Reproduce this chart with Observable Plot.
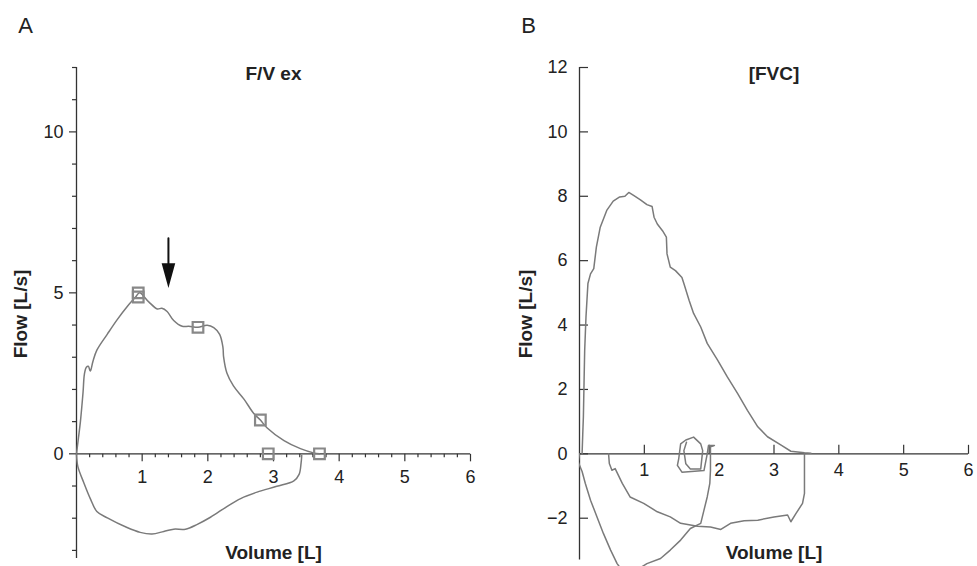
<!DOCTYPE html>
<html>
<head>
<meta charset="utf-8">
<script src="https://cdn.jsdelivr.net/npm/d3@7"></script>
<script src="https://cdn.jsdelivr.net/npm/@observablehq/plot@0.6"></script>
<style>
html, body { margin: 0; padding: 0; background: #fff; }
#wrap { display: flex; width: 977px; height: 566px; overflow: hidden; }
#wrap svg { display: block; }
</style>
</head>
<body>
<div id="wrap"></div>
<script>
// ---------- Panel A : F/V ex ----------
const aExpVolume = [0, 0.03, 0.06, 0.10, 0.12, 0.15, 0.18, 0.21, 0.25, 0.31, 0.47, 0.62, 0.77, 0.90, 0.96, 1.10, 1.23, 1.30, 1.38, 1.48, 1.61, 1.71, 1.85, 1.99, 2.09, 2.18, 2.23, 2.24, 2.29, 2.39, 2.55, 2.70, 2.80, 2.90, 3.16, 3.41, 3.61, 3.70];
const aExpFlow   = [0, 0.50, 1.01, 1.92, 2.47, 2.69, 2.72, 2.57, 2.87, 3.22, 3.72, 4.17, 4.57, 4.87, 5.00, 4.72, 4.50, 4.52, 4.42, 4.14, 3.96, 3.96, 3.93, 3.99, 3.92, 3.71, 3.31, 3.01, 2.51, 2.11, 1.70, 1.25, 1.05, 0.81, 0.41, 0.16, 0.03, 0];
const aInsVolume = [0, 0.02, 0.11, 0.21, 0.31, 0.47, 0.77, 0.97, 1.15, 1.33, 1.48, 1.66, 1.84, 2.04, 2.29, 2.50, 2.75, 3.05, 3.31, 3.39, 3.42, 3.43];
const aInsFlow   = [0, -0.39, -0.89, -1.39, -1.79, -1.99, -2.29, -2.44, -2.49, -2.41, -2.34, -2.34, -2.19, -1.97, -1.64, -1.39, -1.19, -1.01, -0.84, -0.64, -0.29, -0.05];
const aMarkerVolume = [0.94, 0.94, 1.85, 2.80, 2.92, 3.70];
const aMarkerFlow   = [5.00, 4.87, 3.93, 1.05, 0, 0];
const aArrowVolume = 1.40;
const aArrowFlowFrom = 6.70;

// ---------- Panel B : [FVC] ----------
const bExpVolume = [0.04, 0.05, 0.06, 0.07, 0.08, 0.10, 0.13, 0.17, 0.22, 0.26, 0.32, 0.42, 0.52, 0.62, 0.70, 0.76, 0.84, 0.94, 1.04, 1.12, 1.15, 1.20, 1.28, 1.34, 1.35, 1.40, 1.48, 1.58, 1.61, 1.69, 1.76, 1.87, 1.97, 2.13, 2.28, 2.44, 2.59, 2.75, 2.90, 3.11, 3.26, 3.47, 3.57];
const bExpFlow   = [0, 0.60, 1.15, 2.20, 3.22, 4.25, 5.29, 5.59, 5.75, 6.42, 7.04, 7.56, 7.85, 7.98, 8.00, 8.12, 8.02, 7.89, 7.74, 7.68, 7.35, 7.14, 6.93, 6.73, 6.21, 5.80, 5.69, 5.48, 5.29, 4.77, 4.36, 3.94, 3.43, 2.91, 2.39, 1.87, 1.35, 0.84, 0.53, 0.27, 0.08, 0.03, 0.02];
const bIns1Volume = [0, -0.02, 0.01, 0.04, 0.09, 0.17, 0.27, 0.37, 0.48, 0.58, 0.65, 0.85, 1.04, 1.25, 1.40, 1.56, 1.71, 1.87, 1.92, 1.97, 2.01, 2.02, 2.02, 2.07, 2.08, 1.99, 1.97, 1.92, 1.58, 1.51, 1.53, 1.56, 1.64, 1.76, 1.87, 1.90, 1.87, 1.71, 1.64, 1.61, 1.65];
const bIns1Flow   = [0, -0.25, -0.40, -0.55, -0.92, -1.44, -1.96, -2.48, -2.99, -3.41, -3.60, -3.65, -3.41, -3.25, -2.99, -2.68, -2.32, -2.16, -1.75, -1.34, -0.92, -0.51, 0.22, 0.25, 0.26, 0.26, 0.00, -0.52, -0.57, -0.36, -0.16, 0.31, 0.43, 0.52, 0.31, 0.10, -0.47, -0.47, -0.31, 0.10, 0.36];
const bIns2Volume = [0.45, 0.45, 0.46, 0.50, 0.55, 0.66, 0.78, 0.99, 1.20, 1.40, 1.56, 1.82, 2.02, 2.18, 2.33, 2.54, 2.75, 3.00, 3.21, 3.26, 3.34, 3.44, 3.47, 3.47];
const bIns2Flow   = [0, -0.04, -0.30, -0.51, -0.46, -0.92, -1.34, -1.54, -1.80, -1.96, -2.16, -2.25, -2.27, -2.35, -2.16, -2.08, -2.06, -1.96, -1.90, -2.11, -1.85, -1.54, -1.23, 0];

// ---------- Axes ----------
const xDomain = [0, 6];
const yDomain = [-3.5, 12];
const xTicks = [1, 2, 3, 4, 5, 6];
const aXMinorTicks = [0.2, 0.4, 0.6, 0.8, 1.2, 1.4, 1.6, 1.8, 2.2, 2.4, 2.6, 2.8, 3.2, 3.4, 3.6, 3.8, 4.2, 4.4, 4.6, 4.8, 5.2, 5.4, 5.6, 5.8];
const aYMajorTicks = [0, 5, 10];
const aYMinorTicks = [-3, -2, -1, 1, 2, 3, 4, 6, 7, 8, 9, 11, 12];
const bYTicks = [-2, 0, 2, 4, 6, 8, 10, 12];
const aYAxisExtent = [-3.25, 12];
const bYAxisExtent = [-3.3, 12];

const titleA = "F/V ex", titleB = "[FVC]";
const xLabel = "Volume [L]", yLabel = "Flow [L/s]";

// ---------- helpers ----------
const zip = (xs, ys) => xs.map((x, i) => ({x, y: ys[i]}));
const FONT = "'Liberation Sans', Arial, Helvetica, sans-serif";
const INK = "#222";
const AXIS = "#333";
const CURVE = "#7a7a7a";
const fmt = d3.format("d");

const tickShape = {draw(ctx, l) { ctx.moveTo(0, 0); ctx.lineTo(0, -l); }};
const arrowShape = {draw(ctx, l) {
  ctx.moveTo(0, 0); ctx.lineTo(0, -(l - 16));
  ctx.moveTo(-5.5, -(l - 20)); ctx.lineTo(5.5, -(l - 20)); ctx.lineTo(0, -l); ctx.closePath();
}};

function ticks(values, {x, y, length, rotate}) {
  return Plot.vector(values, {
    x: x === undefined ? d => d : x,
    y: y === undefined ? d => d : y,
    length, rotate, anchor: "start", shape: tickShape,
    stroke: AXIS, strokeWidth: 1.2, strokeLinecap: "butt"
  });
}

function commonText(label, flowDx) {
  return [
    Plot.text([label.title], {frameAnchor: "top", dy: 6, lineAnchor: "middle", fontSize: 19, fontWeight: "bold", fill: INK}),
    Plot.text([xLabel], {frameAnchor: "bottom", dy: -14, lineAnchor: "middle", fontSize: 19, fontWeight: "bold", fill: INK}),
    Plot.text([yLabel], {frameAnchor: "left", dx: flowDx, dy: -3, rotate: -90, lineAnchor: "middle", textAnchor: "middle", fontSize: 19, fontWeight: "bold", fill: INK}),
    Plot.text([label.letter], {frameAnchor: "top-left", dx: -51, dy: -42, lineAnchor: "middle", textAnchor: "middle", fontSize: 22, fill: INK})
  ];
}

// ---------- Panel A ----------
const plotA = Plot.plot({
  width: 488, height: 566,
  marginLeft: 76, marginRight: 18, marginTop: 67, marginBottom: 0,
  style: {fontFamily: FONT, background: "#fff", color: INK},
  x: {domain: xDomain, axis: null},
  y: {domain: yDomain, axis: null},
  marks: [
    Plot.ruleY([0], {x1: xDomain[0], x2: xDomain[1], stroke: AXIS, strokeWidth: 1.3}),
    Plot.ruleX([0], {y1: aYAxisExtent[0], y2: aYAxisExtent[1], stroke: AXIS, strokeWidth: 1.3}),
    ticks(aXMinorTicks, {y: 0, length: 3.5, rotate: 180}),
    ticks(xTicks, {y: 0, length: 7.5, rotate: 180}),
    ticks(aYMinorTicks, {x: 0, length: 4.5, rotate: 270}),
    ticks(aYMajorTicks, {x: 0, length: 7.5, rotate: 270}),
    Plot.text(xTicks, {x: d => d, y: 0, dy: 23, text: d => fmt(d), fontSize: 18, fill: INK, lineAnchor: "middle"}),
    Plot.text(aYMajorTicks, {x: 0, y: d => d, dx: -13, text: d => fmt(d), textAnchor: "end", lineAnchor: "middle", fontSize: 18, fill: INK}),
    Plot.line(zip(aExpVolume, aExpFlow), {x: "x", y: "y", curve: "catmull-rom", stroke: CURVE, strokeWidth: 1.5}),
    Plot.line(zip(aInsVolume, aInsFlow), {x: "x", y: "y", curve: "catmull-rom", stroke: CURVE, strokeWidth: 1.5}),
    Plot.dot(zip(aMarkerVolume, aMarkerFlow), {x: "x", y: "y", symbol: "square", r: 6, stroke: "#888", strokeWidth: 2.2, fill: "none"}),
    Plot.vector([aArrowVolume], {x: d => d, y: aArrowFlowFrom, length: 46, rotate: 180, anchor: "start", shape: arrowShape, stroke: "#111", fill: "#111", strokeWidth: 2, strokeLinejoin: "miter"}),
    ...commonText({title: titleA, letter: "A"}, -56)
  ]
});

// ---------- Panel B ----------
const plotB = Plot.plot({
  width: 489, height: 566,
  marginLeft: 91, marginRight: 9, marginTop: 67, marginBottom: 0,
  style: {fontFamily: FONT, background: "#fff", color: INK},
  x: {domain: xDomain, axis: null},
  y: {domain: yDomain, axis: null},
  marks: [
    Plot.ruleY([0], {x1: xDomain[0], x2: xDomain[1], stroke: AXIS, strokeWidth: 1.3}),
    Plot.ruleX([0], {y1: bYAxisExtent[0], y2: bYAxisExtent[1], stroke: AXIS, strokeWidth: 1.3}),
    ticks(xTicks, {y: 0, length: 9, rotate: 0}),
    ticks(bYTicks, {x: 0, length: 8.5, rotate: 90}),
    Plot.text(xTicks.filter(d => d !== 2), {x: d => d, y: 0, dy: 16, text: d => fmt(d), fontSize: 18, fill: INK, lineAnchor: "middle"}),
    Plot.text(xTicks.filter(d => d === 2), {x: d => d, y: 0, dx: 10, dy: 16, text: d => fmt(d), fontSize: 18, fill: INK, lineAnchor: "middle"}),
    Plot.text(bYTicks, {x: 0, y: d => d, dx: -12, text: d => fmt(d), textAnchor: "end", lineAnchor: "middle", fontSize: 18, fill: INK}),
    Plot.line(zip(bExpVolume, bExpFlow), {x: "x", y: "y", stroke: CURVE, strokeWidth: 1.5, clip: true}),
    Plot.line(zip(bIns1Volume, bIns1Flow), {x: "x", y: "y", stroke: CURVE, strokeWidth: 1.5, clip: true}),
    Plot.line(zip(bIns2Volume, bIns2Flow), {x: "x", y: "y", stroke: CURVE, strokeWidth: 1.5, clip: true}),
    ...commonText({title: titleB, letter: "B"}, -54)
  ]
});

const wrap = document.getElementById("wrap");
wrap.appendChild(plotA);
wrap.appendChild(plotB);
</script>
</body>
</html>
